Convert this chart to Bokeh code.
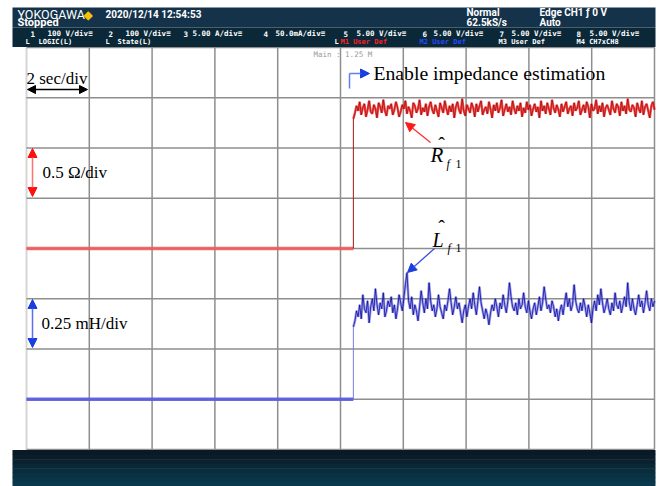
import numpy as np
from bokeh.plotting import figure
from bokeh.models import Range1d, Label, Arrow, NormalHead
from bokeh.embed import file_html
from bokeh.resources import INLINE

# ---------------- data ----------------
SEC_PER_DIV = 2.0
R_OHM_PER_DIV = 0.5
L_MH_PER_DIV = 0.25
R_ZERO_DIV = 4.0          # screen division of the R_hat zero level
L_ZERO_DIV = 1.0          # screen division of the L_hat zero level
T_ENABLE_S = 10.41        # instant the estimation is enabled
T_END_S = 20.0
R_before = 0.0
L_before = 0.0

R_hat_ohm = [
    1.29, 1.35, 1.42, 1.37, 1.46, 1.33, 1.40, 1.44, 1.31, 1.38, 1.47, 1.36,
    1.34, 1.43, 1.39, 1.30, 1.45, 1.41, 1.35, 1.48, 1.37, 1.32, 1.42, 1.39,
    1.44, 1.33, 1.38, 1.46, 1.40, 1.31, 1.36, 1.43, 1.39, 1.47, 1.34, 1.41,
    1.37, 1.30, 1.45, 1.42, 1.35, 1.39, 1.48, 1.33, 1.40, 1.36, 1.44, 1.32,
    1.41, 1.46, 1.38, 1.34, 1.43, 1.37, 1.31, 1.45, 1.40, 1.35, 1.47, 1.39,
    1.33, 1.42, 1.36, 1.44, 1.30, 1.41, 1.46, 1.38, 1.34, 1.49, 1.37, 1.32,
    1.43, 1.39, 1.35, 1.45, 1.40, 1.31, 1.44, 1.36, 1.42, 1.47, 1.33, 1.38,
    1.41, 1.34, 1.46, 1.39, 1.30, 1.43, 1.37, 1.45, 1.35, 1.40, 1.48, 1.32,
    1.38, 1.44, 1.36, 1.41, 1.33, 1.47, 1.39, 1.34, 1.42, 1.37, 1.45, 1.31,
    1.40, 1.35, 1.46, 1.38, 1.43, 1.32, 1.39, 1.44, 1.36, 1.41, 1.30, 1.47,
    1.37, 1.42, 1.34, 1.45, 1.39, 1.33, 1.48, 1.40, 1.35, 1.43, 1.38, 1.31,
    1.44, 1.36, 1.41, 1.46, 1.34, 1.39, 1.42, 1.32, 1.45, 1.37, 1.40, 1.47,
    1.33, 1.38, 1.43, 1.35, 1.46, 1.41, 1.30, 1.44, 1.37, 1.39, 1.48, 1.34,
    1.42, 1.36, 1.45, 1.31, 1.40, 1.43, 1.38, 1.33, 1.47, 1.39, 1.35, 1.44,
    1.41, 1.32, 1.46, 1.37, 1.42, 1.34, 1.49, 1.38, 1.36, 1.43, 1.40, 1.31,
    1.45, 1.39, 1.35, 1.47, 1.33, 1.41, 1.44, 1.37, 1.30, 1.42, 1.46, 1.38,
]

L_hat_mH = [
    0.36, 0.39, 0.44, 0.41, 0.47, 0.40, 0.52, 0.45, 0.43, 0.49, 0.38, 0.46,
    0.50, 0.44, 0.55, 0.47, 0.42, 0.48, 0.45, 0.53, 0.41, 0.44, 0.49, 0.46,
    0.51, 0.43, 0.47, 0.40, 0.45, 0.52, 0.48, 0.44, 0.50, 0.57, 0.63, 0.49,
    0.45, 0.51, 0.42, 0.47, 0.44, 0.39, 0.46, 0.54, 0.48, 0.43, 0.50, 0.45,
    0.58, 0.49, 0.44, 0.47, 0.41, 0.45, 0.52, 0.46, 0.43, 0.40, 0.47, 0.44,
    0.49, 0.55, 0.48, 0.42, 0.46, 0.51, 0.45, 0.48, 0.43, 0.38, 0.44, 0.47,
    0.41, 0.46, 0.50, 0.45, 0.53, 0.47, 0.42, 0.49, 0.56, 0.48, 0.44, 0.40,
    0.45, 0.42, 0.37, 0.43, 0.47, 0.44, 0.50, 0.46, 0.41, 0.48, 0.45, 0.52,
    0.47, 0.43, 0.49, 0.58, 0.51, 0.46, 0.44, 0.48, 0.42, 0.50, 0.45, 0.47,
    0.53, 0.46, 0.43, 0.49, 0.44, 0.40, 0.45, 0.48, 0.42, 0.46, 0.51, 0.44,
    0.48, 0.56, 0.50, 0.45, 0.47, 0.43, 0.49, 0.46, 0.41, 0.45, 0.39, 0.44,
    0.47, 0.42, 0.48, 0.53, 0.46, 0.50, 0.44, 0.47, 0.57, 0.49, 0.45, 0.43,
    0.48, 0.44, 0.50, 0.46, 0.41, 0.47, 0.43, 0.38, 0.45, 0.49, 0.44, 0.52,
    0.47, 0.55, 0.48, 0.43, 0.46, 0.50, 0.45, 0.42, 0.48, 0.44, 0.53, 0.47,
    0.45, 0.49, 0.43, 0.47, 0.51, 0.46, 0.58, 0.48, 0.44, 0.50, 0.45, 0.42,
    0.47, 0.52, 0.46, 0.49, 0.43, 0.48, 0.54, 0.47, 0.44, 0.50, 0.46, 0.49,
]

N_HDIV = 10
N_VDIV = 8

# ---------------- layout helpers (page pixel -> chart coords, for decorations) ----------------
PX_T0 = 26.0
PX_PER_S = 31.4
PY_D0 = 449.0
PY_PER_DIV = 50.25
ORG = 0  # page position of the figure's top-left corner


def tx(px):
    return (px - PX_T0) / PX_PER_S


def dy(py):
    return (PY_D0 - py) / PY_PER_DIV


W, H = 656, 486
p = figure(width=W, height=H, output_backend="svg", toolbar_location=None,
           x_range=Range1d(tx(ORG), tx(ORG + W)), y_range=Range1d(dy(ORG + H), dy(ORG)),
           x_axis_location=None, y_axis_location=None, min_border=0,
           background_fill_color="white", border_fill_color="white",
           outline_line_color=None)
p.grid.visible = False

# ---------------- graticule ----------------
t_grid = [SEC_PER_DIV * k for k in range(1, N_HDIV + 1)]
p.segment(x0=t_grid, x1=t_grid, y0=[0] * len(t_grid), y1=[N_VDIV] * len(t_grid),
          line_color="#8e8e8e", line_width=1.5)
p.segment(x0=[0], x1=[0], y0=[0], y1=[N_VDIV], line_color="#d6d6d6", line_width=2)
d_grid = list(range(0, N_VDIV + 1))
p.segment(x0=[0] * len(d_grid), x1=[N_HDIV * SEC_PER_DIV] * len(d_grid), y0=d_grid, y1=d_grid,
          line_color="#8e8e8e", line_width=1.5)

# ---------------- traces ----------------
t_after_R = np.linspace(T_ENABLE_S, T_END_S, len(R_hat_ohm))
t_after_L = np.linspace(T_ENABLE_S, T_END_S, len(L_hat_mH))
yR = np.array(R_hat_ohm) / R_OHM_PER_DIV + R_ZERO_DIV
yL = np.array(L_hat_mH) / L_MH_PER_DIV + L_ZERO_DIV
yR0 = R_before / R_OHM_PER_DIV + R_ZERO_DIV
yL0 = L_before / L_MH_PER_DIV + L_ZERO_DIV

# before enabling
p.line([0, T_ENABLE_S], [yR0, yR0], line_color="#f05c5c", line_width=3.5, line_alpha=0.9)
p.line([0, T_ENABLE_S], [yL0, yL0], line_color="#5a5ae4", line_width=3.5, line_alpha=0.9)
# step edges
p.line([T_ENABLE_S, T_ENABLE_S], [yR0, yR[0]], line_color="#a01818", line_width=1)
p.line([T_ENABLE_S, T_ENABLE_S], [yL0, yL[0]], line_color="#7a7ae6", line_width=1)
# after enabling
p.line(t_after_R, yR, line_color="#ff2a2a", line_width=2.4, line_alpha=0.85)
p.line(t_after_R, yR, line_color="#700000", line_width=0.8, line_alpha=0.7)
p.line(t_after_L, yL, line_color="#6060ea", line_width=2.6, line_alpha=0.6)
p.line(t_after_L, yL, line_color="#00008a", line_width=0.8, line_alpha=0.9)

# ---------------- scope header / footer bands ----------------
p.quad(left=tx(12), right=tx(655), top=dy(7), bottom=dy(27), fill_color="#143249", line_color=None)
p.quad(left=tx(12), right=tx(655), top=dy(27), bottom=dy(46.5), fill_color="#0b2838", line_color=None)
foot_cols = ["#0a1923", "#0a1d29", "#0a222f", "#0a2735", "#0a2c3c", "#0a3142", "#0a3548", "#0a394e"]
edges = np.linspace(449.5, 486, len(foot_cols) + 1)
for i, c in enumerate(foot_cols):
    p.quad(left=tx(12), right=tx(655), top=dy(edges[i]), bottom=dy(edges[i + 1] + 0.5),
           fill_color=c, line_color=None)


def lab(px, py, text, size, color="white", font="Roboto", style="normal", align="left"):
    """py is the vertical centre of the text line, in page pixels."""
    p.add_layout(Label(x=tx(px), y=dy(py), text=text, text_font=font,
                       text_font_size=f"{size}px", text_color=color, text_font_style=style,
                       text_align=align, text_baseline="middle"))


# header texts
lab(17, 14, "YOKOGAWA", 12.5)
lab(83, 14, "◆", 12, color="#f5c400", font="DejaVu Sans")
lab(105, 13.5, "2020/12/14 12:54:53", 10, style="bold")
lab(17, 22, "Stopped", 11, style="bold")
lab(466, 11.5, "Normal", 10, style="bold")
lab(466, 22, "62.5kS/s", 10, style="bold")
lab(539, 12, "Edge CH1 ƒ 0 V", 10, style="bold")
lab(539, 22, "Auto", 10, style="bold")
mono = "DejaVu Sans Mono"
row2 = [(30, "1"), (47, "100 V/div≡"), (108, "2"), (125, "100 V/div≡"),
        (183, "3"), (192, "5.00 A/div≡"), (263, "4"), (275, "50.0mA/div≡"),
        (343, "5"), (356, "5.00 V/div≡"), (422, "6"), (433, "5.00 V/div≡"),
        (499, "7"), (511, "5.00 V/div≡"), (576, "8"), (589, "5.00 V/div≡")]
for x, s in row2:
    lab(x, 33, s, 7.5, font=mono, style="bold")
row3 = [(25, "L", "white"), (38, "LOGIC(L)", "white"), (105, "L", "white"),
        (117, "State(L)", "white"), (334, "L", "white"), (340, "M1 User Def", "#ff2020"),
        (419, "M2 User Def", "#2a48ff"), (498, "M3 User Def", "white"),
        (576, "M4 CH7xCH8", "white")]
for x, s, c in row3:
    lab(x, 41, s, 7, color=c, font=mono, style="bold")
lab(313, 53.5, "Main : 1.25 M", 7.5, color="#9a9a9a", font=mono)

# ---------------- annotations ----------------
serif = "Liberation Serif"
lab(26, 77.5, "2 sec/div", 17, color="black", font=serif)
p.add_layout(Arrow(x_start=tx(27), y_start=dy(89), x_end=tx(87), y_end=dy(89),
                   start=NormalHead(size=8, fill_color="black", line_color="black"),
                   end=NormalHead(size=8, fill_color="black", line_color="black"),
                   line_color="black", line_width=1.5))

lab(42, 172, "0.5 Ω/div", 17, color="black", font=serif)
p.add_layout(Arrow(x_start=tx(32), y_start=dy(148), x_end=tx(32), y_end=dy(196),
                   start=NormalHead(size=9, fill_color="#ff1010", line_color="#ff1010"),
                   end=NormalHead(size=9, fill_color="#ff1010", line_color="#ff1010"),
                   line_color="#ff7070", line_width=1.5))

lab(41, 323, "0.25 mH/div", 17, color="black", font=serif)
p.add_layout(Arrow(x_start=tx(32), y_start=dy(299), x_end=tx(32), y_end=dy(347),
                   start=NormalHead(size=9, fill_color="#1a3ee0", line_color="#1a3ee0"),
                   end=NormalHead(size=9, fill_color="#1a3ee0", line_color="#1a3ee0"),
                   line_color="#5a6ef0", line_width=1.5))

lab(373, 72, "Enable impedance estimation", 19.7, color="black", font=serif)
p.add_layout(Arrow(x_start=tx(349), y_start=dy(88), x_end=tx(349), y_end=dy(73),
                   end=None, line_color="#6080ee", line_width=1.5))
p.add_layout(Arrow(x_start=tx(349), y_start=dy(73), x_end=tx(369), y_end=dy(73),
                   end=NormalHead(size=9, fill_color="#1a3ee0", line_color="#1a3ee0"),
                   line_color="#6080ee", line_width=1.5))

# R_hat label
lab(430, 154, "R", 21, color="black", font=serif, style="italic")
lab(441, 144, "ˆ", 20, color="black", font=serif, align="center")
lab(446, 163, "f", 12, color="black", font=serif, style="italic")
lab(455, 163, "1", 12, color="black", font=serif)
p.add_layout(Arrow(x_start=tx(430), y_start=dy(142), x_end=tx(405), y_end=dy(122),
                   end=NormalHead(size=9, fill_color="#ff1a1a", line_color="#ff1a1a"),
                   line_color="#ff2a2a", line_width=1.3))

# L_hat label
lab(432, 239, "L", 20, color="black", font=serif, style="italic")
lab(441, 227.5, "ˆ", 20, color="black", font=serif, align="center")
lab(447, 247, "f", 12, color="black", font=serif, style="italic")
lab(455, 247, "1", 12, color="black", font=serif)
p.add_layout(Arrow(x_start=tx(434), y_start=dy(248), x_end=tx(407), y_end=dy(272),
                   end=NormalHead(size=9, fill_color="#1a3ee0", line_color="#1a3ee0"),
                   line_color="#3a50e0", line_width=1.3))

open("out.html", "w").write(file_html(p, INLINE))
